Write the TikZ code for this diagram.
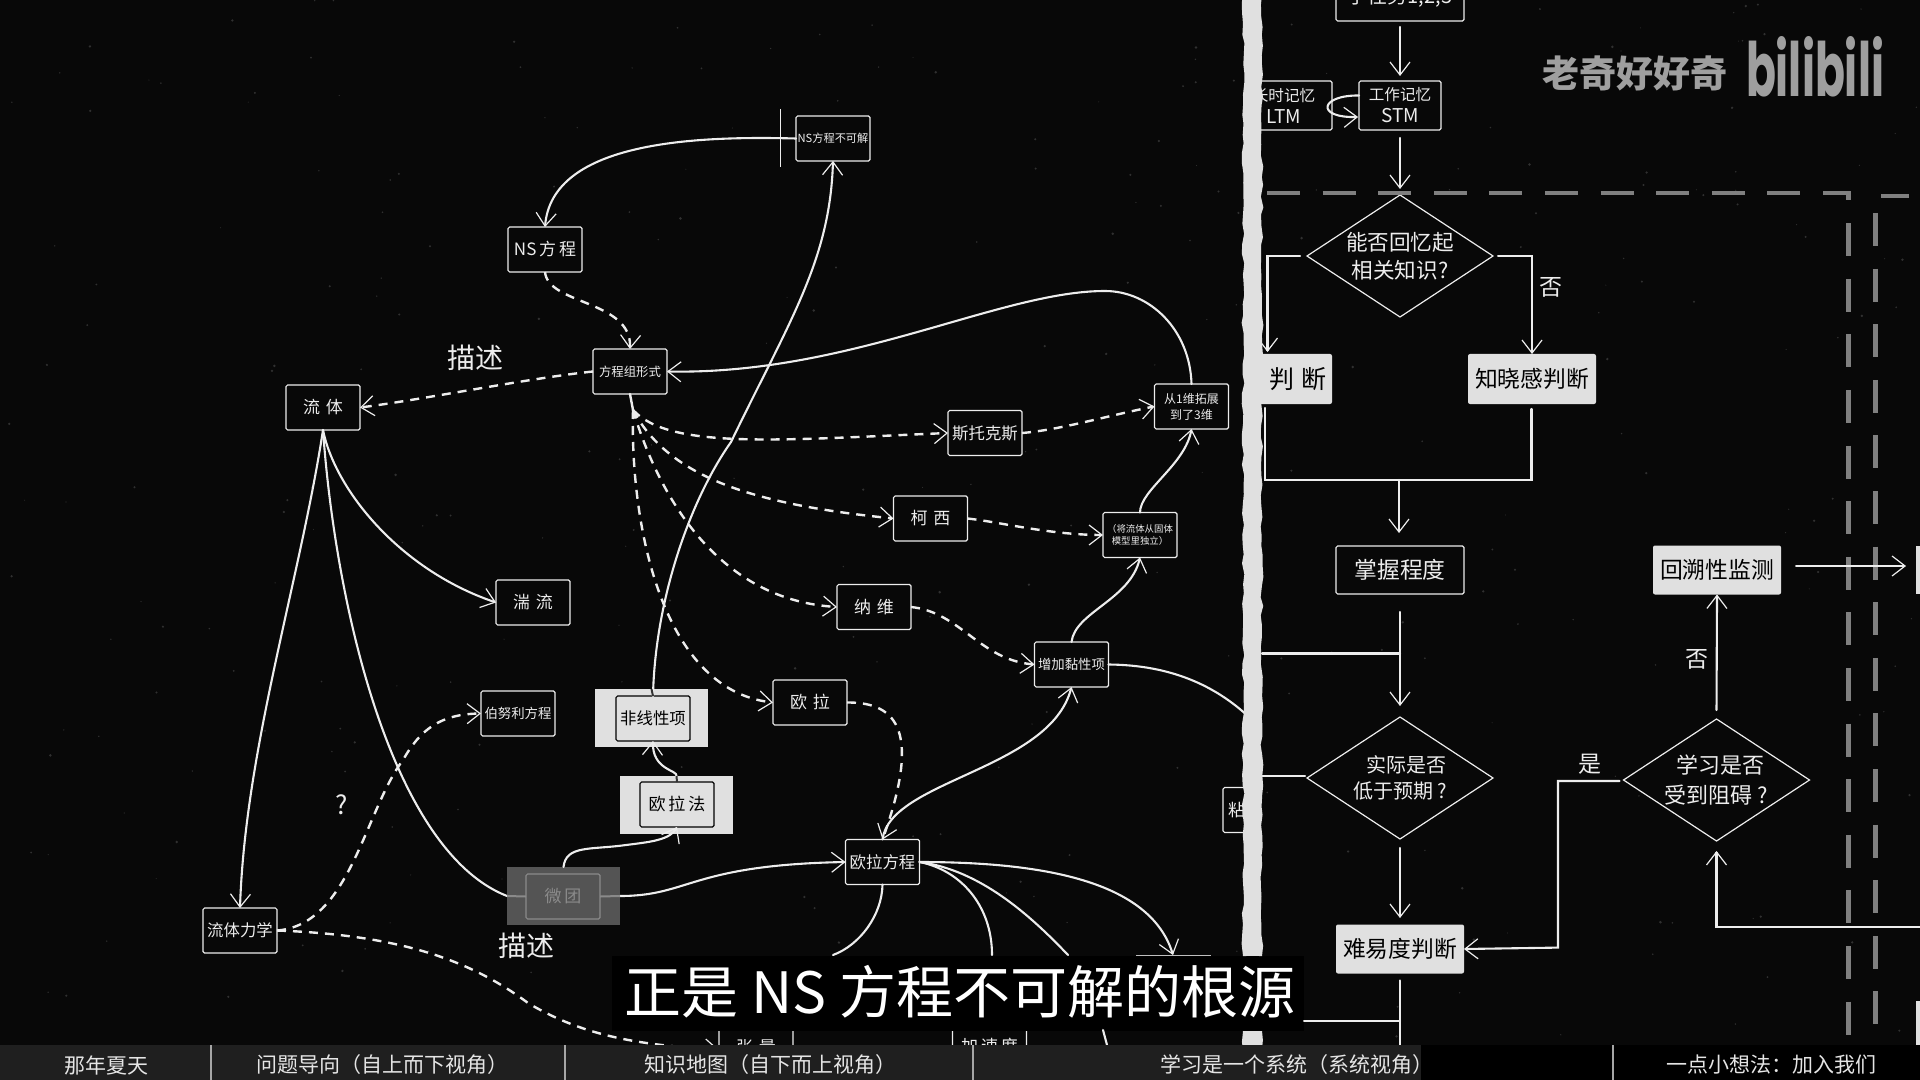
\documentclass[tikz,border=0pt]{standalone}
\usepackage{fontspec}
\setmainfont{Noto Sans CJK SC}
\newfontfamily\latinf{Poppins}
\usetikzlibrary{arrows.meta,shapes.geometric,decorations.pathmorphing}
\definecolor{bgc}{gray}{0.03}
\definecolor{ink}{gray}{0.93}
\definecolor{pap}{gray}{0.88}
\definecolor{pwg}{gray}{0.33}
\definecolor{pwl}{gray}{0.54}
\definecolor{frm}{gray}{0.5}
\newcommand{\gp}{\hspace{0.35em}}
\tikzset{
 x=0.5pt,y=-0.5pt,
 every node/.style={inner sep=0pt,outer sep=0pt,align=center,text=ink},
 tip/.style={-{Straight Barb[length=6.5pt,width=10pt,line width=0.6pt]}},
 conn/.style={draw=ink,line width=1.05pt,line cap=round,tip},
 plainc/.style={draw=ink,line width=1.05pt,line cap=round},
 dash1/.style={draw=ink,line width=1.2pt,dash pattern=on 4.5pt off 3.5pt},
 dashc/.style={dash1,tip},
 nbox/.style={draw=ink,line width=0.6pt,rounded corners=0.8pt,minimum width=37pt,minimum height=22.5pt,fill=bgc},
 dbox/.style={nbox,text=black,fill=pap,draw=black},
 wbox/.style={draw=none,rounded corners=1pt,minimum width=64pt,minimum height=24.5pt,fill=pap,text=black,font=\fontsize{11.4}{13}\selectfont},
 tbox/.style={draw=ink,line width=0.6pt,rounded corners=0.8pt,minimum width=64pt,minimum height=24pt,fill=bgc,font=\fontsize{11.4}{13}\selectfont},
 hl/.style={fill=pap,draw=none,minimum width=56.5pt,minimum height=29pt},
 diam/.style={draw=ink,line width=0.6pt,diamond,aspect=1.5,minimum width=93pt,minimum height=61pt,fill=bgc},
 big/.style={font=\fontsize{14}{16}\selectfont},
 lab/.style={font=\fontsize{11.5}{13}\selectfont},
 tabt/.style={font=\fontsize{10.5}{12}\selectfont,text=gray!20!white},
 f6/.style={font=\fontsize{6.7}{8}\selectfont},
 f8/.style={font=\fontsize{8.2}{10}\selectfont},
 f85/.style={font=\fontsize{8.5}{10}\selectfont},
 g5/.style={draw=frm,line width=2.4pt,dash pattern=on 16.5pt off 11.3pt},
}
\begin{document}
\begin{tikzpicture}
\useasboundingbox (0,0) rectangle (1920,1080);
\fill[bgc] (0,0) rectangle (1920,1080);
% paper specks
\pgfmathsetseed{4242}
\foreach \i in {1,...,320}{
  \pgfmathsetmacro{\px}{rnd*1920}
  \pgfmathsetmacro{\py}{rnd*1045}
  \pgfmathsetmacro{\pr}{0.5+rnd*0.9}
  \fill[gray!38!black] (\px,\py) circle[radius=\pr];
}

% highlight plates
\node[hl] (pn) at (651.5,718) {};
\node[hl] (pe) at (676.5,805) {};
\node[hl,fill=pwg] (pw) at (563.5,896) {};

% left nodes
\node[nbox,font=\fontsize{5.6}{7}\selectfont] (nsx) at (833,138.5) {NS方程不可解};
\node[nbox,f85] (ns) at (545,249.5) {NS\,方\,程};
\node[nbox,font=\fontsize{6.2}{8}\selectfont] (fcz) at (630,371.5) {方程组形式};
\node[nbox,f85] (lt) at (323,407.5) {流\gp 体};
\node[nbox,f85] (tl) at (533,602.5) {湍\gp 流};
\node[nbox,f6] (bnl) at (518,713.5) {伯努利方程};
\node[dbox,f8] (fxx) at (653,718.5) {非线性项};
\node[dbox,f85] (olf) at (677,804.5) {欧\,拉\,法};
\node[nbox,f85,text=pwl,fill=pwg,draw=pwl] (wt) at (563,896.5) {微\,团};
\node[nbox,f8] (ltx) at (240,930.5) {流体力学};
\node[nbox,f85] (ol) at (810,702.5) {欧\gp 拉};
\node[nbox,f8] (ofc) at (882.5,862) {欧拉方程};
\node[nbox,f8] (stk) at (985,433) {斯托克斯};
\node[nbox,font=\fontsize{6}{8}\selectfont] (wei) at (1191.5,406.5) {从1维拓展\\到了3维};
\node[nbox,f85] (kx) at (930.5,518.5) {柯\gp 西};
\node[nbox,font=\fontsize{4.7}{6.2}\selectfont] (gt) at (1140,535) {（将流体从固体\\模型里独立）};
\node[nbox,f85] (nw) at (874,607) {纳\gp 维};
\node[nbox,f6] (zn) at (1071.5,664.5) {增加黏性项};
\node[nbox,f85] (zl) at (756,1050) {\raisebox{3pt}{张\gp 量}};
\node[nbox,f85] (jsd) at (989.5,1050) {\raisebox{4.5pt}{加\,速\,度}};
\node[nbox,f85,minimum width=13.5pt] (nian) at (1236.5,810) {粘};
\node[draw=gray!50,line width=0.4pt,minimum width=37pt,minimum height=0.1pt] (tbx) at (1173,955) {};

% labels
\node[big] (ms1) at (475,358) {描述};
\node[big] (ms2) at (526,946) {描述};
\node[font=\fontsize{13}{15}\selectfont] (q) at (342,805) {?};

% left connectors
\coordinate (hub) at (633,410);
\draw[conn] (nsx.west) .. controls (700,136) and (552,140) .. (ns.north);
\draw[draw=ink,line width=0.4pt] (780,109) -- (780,167);
\draw[dashc] (ns.south) .. controls (548,305) and (632,300) .. (fcz.north);
\draw[dashc] (fcz.west) .. controls (530,378) and (420,400) .. (lt.east);
\draw[conn] (wei.north) .. controls (1190,330) and (1150,291) .. (1105,291) .. controls (1000,291) and (850,375) .. (fcz.east);
\draw[plainc,line width=1.2pt] (fcz.south) -- (hub);
\draw[conn] (fxx.north) .. controls (655,600) and (690,500) .. (731,442) .. controls (790,320) and (830,260) .. (nsx.south);
\draw[dashc] (hub) .. controls (670,450) and (780,440) .. (stk.west);
\draw[dashc] (hub) .. controls (670,480) and (760,505) .. (kx.west);
\draw[dashc] (hub) .. controls (660,500) and (720,600) .. (nw.west);
\draw[dashc] (hub) .. controls (630,520) and (660,690) .. (ol.west);
\draw[dashc] (stk.east) .. controls (1060,430) and (1110,415) .. (wei.west);
\draw[dashc] (kx.east) .. controls (1000,522) and (1050,535) .. (gt.west);
\draw[dashc] (nw.east) .. controls (960,612) and (980,660) .. (zn.west);
\draw[dashc] (ol.east) .. controls (900,702) and (920,735) .. (ofc.north);
\draw[conn] (ofc.north) .. controls (890,780) and (1050,770) .. (zn.south);
\draw[conn] (zn.north) .. controls (1075,612) and (1130,600) .. (gt.south);
\draw[conn] (gt.north) .. controls (1140,490) and (1185,465) .. (wei.south);
\draw[plainc] (zn.east) .. controls (1170,665) and (1215,685) .. (1250,718);
\draw[conn] (lt.south) .. controls (300,580) and (245,750) .. (ltx.north);
\draw[plainc] (lt.south) .. controls (335,600) and (390,850) .. (pw.west);
\draw[conn] (lt.south) .. controls (335,490) and (400,570) .. (tl.west);
\draw[dashc] (ltx.east) .. controls (350,925) and (365,810) .. (403,760) .. controls (420,730) and (440,714) .. (bnl.west);
\draw[dashc] (ltx.east) .. controls (400,935) and (470,960) .. (528,1003) .. controls (590,1040) and (650,1045) .. (zl.west);
\draw[conn] (pw.north) .. controls (566,845) and (590,850) .. (626,845) .. controls (650,842) and (670,840) .. (olf.south);
\draw[conn] (pe.north) .. controls (678,770) and (652,770) .. (fxx.south);
\draw[conn] (pw.east) .. controls (690,896) and (690,865) .. (ofc.west);
\draw[pwl,line width=1pt] (pw.west) -- (wt.west) (pw.east) -- (wt.east);
\draw[black!80,line width=1pt] (fxx.north) -- (pn.north) (olf.north) -- (pe.north);
\draw[conn] (ofc.east) .. controls (1040,862) and (1150,880) .. (1173,955);
\draw[plainc] (ofc.east) .. controls (980,870) and (1030,915) .. (1068,955);
\draw[plainc] (ofc.east) .. controls (960,870) and (992,905) .. (992,955);
\draw[plainc] (ofc.south) .. controls (882,915) and (860,945) .. (833,955);

% subtitle
\fill[black] (612,956) rectangle (1304,1031);
\node[font=\fontsize{28.5}{30}\selectfont,text=white] (sub) at (960,992) {正是 NS 方程不可解的根源};
\draw[plainc] (1103,1030) -- (1107,1045);

% right nodes
\node[tbox,font=\fontsize{10}{12}\selectfont] (top) at (1400,-3) {子任务1,2,3};
\node[nbox,minimum width=41pt,minimum height=24.5pt,font=\fontsize{7.8}{11}\selectfont] (stm) at (1400,105.5) {工作记忆\\{\fontsize{9.5}{11}\selectfont STM}};
\begin{scope}
\clip (1250,0) rectangle (1920,1080);
\node[nbox,minimum width=48pt,minimum height=24.5pt,font=\fontsize{7.8}{11}\selectfont] (ltm) at (1284,105.5) {长时记忆\\{\fontsize{9.5}{11}\selectfont LTM}};
\end{scope}
\draw[conn] (stm.west)++(0,-10) .. controls (1320,95) and (1315,118) .. (1358,117);
\node[diam] (d1) at (1400,256) {};
\node[font=\fontsize{10.8}{14}\selectfont] (d1t) at (d1) {能否回忆起\\相关知识?};
\begin{scope}
\clip (1250,0) rectangle (1920,1080);
\fill[pap,rounded corners=1pt] (1204,354) rectangle (1332,404);
\end{scope}
\node[text=black,font=\fontsize{12.5}{14}\selectfont] (jd) at (1298,379) {判\hspace{0.3em}断};
\node[wbox,minimum height=25pt] (zx) at (1532,379) {知晓感判断};
\node[tbox] (zw) at (1400,570) {掌握程度};
\node[diam] (d2) at (1400,778) {};
\node[font=\fontsize{10}{13}\selectfont] (d2t) at (d2) {\hspace{0.6em}实际是否\\低于预期 ?};
\node[wbox] (nyd) at (1400,949) {难易度判断};
\node[diam] (d3) at (1716.5,780) {};
\node[font=\fontsize{11}{15}\selectfont] (d3t) at (d3) {\hspace{0.4em}学习是否\\受到阻碍 ?};
\node[wbox] (hs) at (1717,570) {回溯性监测};
\fill[pap] (1916,546) rectangle (1925,594);
\fill[pap] (1916,1001) rectangle (1925,1050);
\node[lab] (no1) at (1551,287) {否};
\node[lab] (no2) at (1697,659) {否};
\node[lab] (yes) at (1590,764.5) {是};

% gray dashed frames
\draw[g5] (1267,193) -- (1848.5,193) -- (1848.5,1045);
\draw[g5] (1881,196) -- (1909,196);
\draw[g5] (1875.7,213) -- (1875.7,1045);

% right connectors
\draw[conn] (top.south)++(0,6) -- (1400,76);
\draw[conn] (stm.south)++(0,8) -- (1400,189);
\draw[conn] (d1.west)++(-7,0) -| (1267.5,352);
\draw[conn] (d1.east)++(5,0) -| (zx.north);
\draw[plainc] (1265,408) |- (1531.5,480) -- (1531.5,409);
\draw[conn] (1399,480) -- (1399,533);
\draw[conn] (zw.south)++(0,18) -- (1400,706);
\draw[plainc] (1262,653.5) -- (1400,653.5);
\draw[plainc] (1262,776) -- (1305,776);
\draw[conn] (d2.south)++(0,9) -- (1400,918);
\draw[conn] (d3.west)++(-4,1) -| (1558,947.6) -- (nyd.east);
\draw[conn] (d3.north)++(0,-9) -- (hs.south);
\draw[conn] (hs.east)++(15,-4) -- (1906,566);
\draw[conn] (1925,927) -| (1716.5,851);
\draw[plainc] (nyd.south)++(0,7) -- (1400,1045);
\draw[plainc] (1304,1021) -- (1400,1021);

% torn strip
\fill[pap,decorate,decoration={random steps,segment length=5pt,amplitude=0.7pt}] (1243,-6) -- (1243,956) -- (1262,956) -- (1262,-6) -- cycle;
\fill[pap,decorate,decoration={random steps,segment length=5pt,amplitude=0.7pt}] (1243,1031) -- (1243,1050) -- (1262,1050) -- (1262,1031) -- cycle;

% logo
\node[font=\fontsize{18.5}{22}\selectfont\bfseries,text=gray!75] (lg) at (1635,73) {老奇好好奇};
\node[text=gray!75] (bl) at (1815,67) {\resizebox{69pt}{30pt}{\latinf\bfseries bilibili}};

% tab bar
\fill[black!88] (0,1045) rectangle (1421,1080);
\fill[black] (1421,1045) rectangle (1920,1080);
\foreach \x in {211,565,973,1613} \draw[gray!70,line width=0.7pt] (\x,1045) -- (\x,1080);
\node[tabt] (t1) at (106,1065) {那年夏天};
\node[tabt] (t2) at (382,1065) {问题导向（自上而下视角）};
\node[tabt] (t3) at (770,1065) {知识地图（自下而上视角）};
\node[tabt] (t4) at (1297,1065) {学习是一个系统（系统视角）};
\node[tabt] (t5) at (1771,1065) {一点小想法：加入我们};
\end{tikzpicture}
\end{document}
